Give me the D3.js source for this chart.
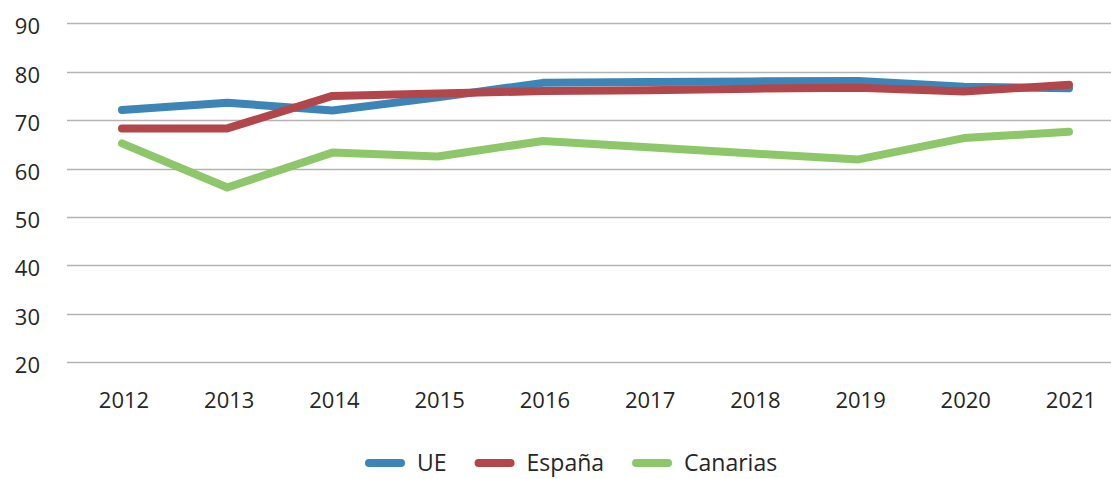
<!DOCTYPE html>
<html>
<head>
    <meta charset="utf-8">
    <title>UE / España / Canarias</title>
    <style>
    body { margin: 0; background: #fff; }
    text {
        font-family: "Open Sans", sans-serif;
        font-size: 22px;
        fill: #262626;
    }
    .legend text { font-size: 23px; }
    .grid line { stroke: #b4b4b4; stroke-width: 1.3px; }
    .serie { fill: none; stroke-width: 8px; stroke-linecap: round; stroke-linejoin: round; }
    </style>
</head>

<body>
    <script src="https://cdn.jsdelivr.net/npm/d3@7/dist/d3.min.js"></script>
    <script>

    var years = ['2012', '2013', '2014', '2015', '2016', '2017', '2018', '2019', '2020', '2021'],
        yTicks = [20, 30, 40, 50, 60, 70, 80, 90]

    var ue = [72.1, 73.6, 72.0, 74.7, 77.7, 77.9, 78.0, 78.1, 76.9, 76.6],
        espana = [68.3, 68.3, 75.0, 75.5, 76.0, 76.2, 76.5, 76.7, 75.9, 77.3],
        canarias = [65.2, 56.1, 63.3, 62.5, 65.7, 64.4, 63.1, 61.9, 66.3, 67.6]

    var names = ['UE', 'España', 'Canarias'],
        colors = ['#3d84b7', '#b2464a', '#8dc76a']

    var series = [ue, espana, canarias]

    var width = 1111,
        height = 479

    var svg = d3.select('body').append('svg')
        .attr('width', width)
        .attr('height', height)

    var x = d3.scalePoint()
        .domain(years)
        .range([122, 1069])

    var y = d3.scaleLinear()
        .domain([20, 90])
        .range([362.3, 23.3])

    // horizontal grid
    svg.append('g')
        .attr('class', 'grid')
        .selectAll('line')
        .data(yTicks)
        .enter().append('line')
        .attr('x1', 67)
        .attr('x2', width)
        .attr('y1', function(d){ return Math.round(y(d)) + 0.5 })
        .attr('y2', function(d){ return Math.round(y(d)) + 0.5 })

    // y labels
    svg.append('g')
        .selectAll('text')
        .data(yTicks)
        .enter().append('text')
        .attr('x', 40)
        .attr('y', function(d){ return y(d) })
        .attr('dy', '0.5em')
        .attr('text-anchor', 'end')
        .text(function(d){ return d })

    // x labels
    svg.append('g')
        .selectAll('text')
        .data(years)
        .enter().append('text')
        .attr('x', function(d){ return x(d) + 2 })
        .attr('y', 408)
        .attr('text-anchor', 'middle')
        .text(function(d){ return d })

    var line = d3.line()
        .x(function(d, i){ return x(years[i]) })
        .y(function(d){ return y(d) })

    svg.append('g')
        .selectAll('path')
        .data(series)
        .enter().append('path')
        .attr('class', 'serie')
        .attr('stroke', function(d, i){ return colors[i] })
        .attr('d', line)

    // legend
    var legend = svg.append('g').attr('class', 'legend')
    var lx = 369, ly = 463
    names.forEach(function(n, i){
        legend.append('line')
            .attr('x1', lx).attr('x2', lx + 32)
            .attr('y1', ly).attr('y2', ly)
            .attr('stroke', colors[i])
            .attr('stroke-width', 8)
            .attr('stroke-linecap', 'round')
        var t = legend.append('text')
            .attr('x', lx + 48)
            .attr('y', ly)
            .attr('dy', '0.34em')
            .text(n)
        lx += 48 + t.node().getComputedTextLength() + 32
    })

    </script>
</body>
</html>
